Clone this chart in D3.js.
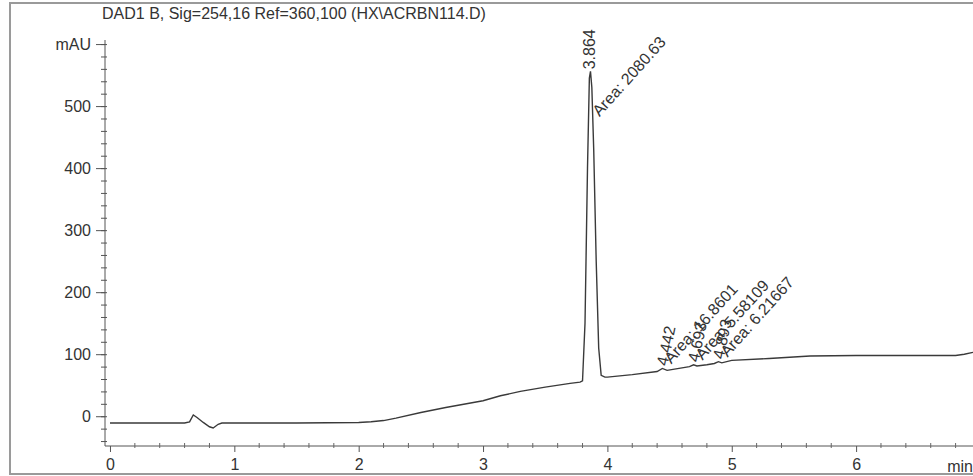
<!DOCTYPE html>
<html>
<head>
<meta charset="utf-8">
<script src="https://cdn.jsdelivr.net/npm/d3@7"></script>
<style>
  body { margin: 0; background: #fff; }
  text { font-family: "Liberation Sans", Arial, sans-serif; fill: #333; }
</style>
</head>
<body>
<svg id="chart" width="973" height="476"></svg>
<script>
// chromatogram trace (min, mAU)
const times  = [0, 0.3, 0.6, 0.64, 0.67, 0.70, 0.75, 0.80, 0.83, 0.87, 0.90, 1.0, 1.5, 2.0, 2.1, 2.2, 2.3, 2.5, 2.7, 3.0, 3.14, 3.3, 3.5, 3.7, 3.78, 3.80, 3.82, 3.84, 3.855, 3.864, 3.875, 3.89, 3.91, 3.93, 3.95, 3.98, 4.0, 4.2, 4.40, 4.442, 4.48, 4.6, 4.66, 4.693, 4.72, 4.80, 4.86, 4.893, 4.92, 5.0, 5.3, 5.63, 6.0, 6.4, 6.8, 6.87, 6.94];
const absorb = [-11, -11, -11, -9, 2, -2, -10, -17, -19, -13, -11, -11, -11, -10, -9, -7, -3, 6, 14, 25, 33, 40, 47, 53, 55, 57, 150, 400, 545, 556, 530, 430, 250, 110, 66, 63, 63, 67, 72, 77, 74, 78, 80, 83, 81, 83, 85, 88, 86, 90, 93, 97, 98, 98, 98, 100, 103];

// integration results
const peakTimes = [3.864, 4.442, 4.693, 4.893];
const peakAreas = ["2080.63", "16.8601", "5.58109", "6.21667"];

const xTicks = [0, 1, 2, 3, 4, 5, 6];
const yTicks = [0, 100, 200, 300, 400, 500];

function drawChromatogram(chartId) {
    const svg = d3.select(chartId);

    // scanned page frame
    svg.append("rect")
        .attr("x", 10).attr("y", 3)
        .attr("width", 980).attr("height", 471)
        .attr("fill", "none")
        .attr("stroke", "#9a9a9a")
        .attr("stroke-width", 2);

    svg.append("text")
        .attr("x", 102).attr("y", 19)
        .style("font-size", "16px")
        .text("DAD1 B, Sig=254,16 Ref=360,100 (HX\\ACRBN114.D)");

    const x = d3.scaleLinear().domain([-0.04, 6.94]).range([105, 973]);
    const y = d3.scaleLinear().domain([-48, 613]).range([446, 36]);

    // Y axis
    const yAxis = svg.append("g").attr("transform", `translate(${x(-0.04)},0)`);
    yAxis.call(d3.axisLeft(y).tickValues(d3.range(-40, 601, 20)).tickSize(4).tickFormat(""));
    yAxis.select(".domain").remove();
    yAxis.selectAll("line").attr("stroke", "#555").attr("x1", 2);
    yAxis.append("line")
        .attr("y1", 40).attr("y2", y(-48))
        .attr("stroke", "#555");
    const yMajor = svg.append("g").attr("transform", `translate(${x(-0.04)},0)`)
        .call(d3.axisLeft(y).tickValues(yTicks.concat([600])).tickSize(9).tickPadding(5)
            .tickFormat(d => d === 600 ? "mAU" : d));
    yMajor.select(".domain").remove();
    yMajor.selectAll("line").attr("stroke", "#555");
    yMajor.selectAll("text").style("font-size", "16px").attr("fill", "#333").attr("dy", "0.36em");

    // X axis
    const xAxis = svg.append("g").attr("transform", `translate(0,${y(-48)})`);
    xAxis.append("line")
        .attr("x1", x(-0.04)).attr("x2", 973)
        .attr("stroke", "#555");
    xAxis.selectAll(".minor")
        .data(d3.range(1, 35).map(i => i / 5).filter(v => Math.abs(v - Math.round(v)) > 0.01))
        .enter().append("line")
        .attr("class", "minor")
        .attr("x1", d => x(d)).attr("x2", d => x(d))
        .attr("y1", -3).attr("y2", 2)
        .attr("stroke", "#666");
    const xMajor = svg.append("g").attr("transform", `translate(0,${y(-48)})`)
        .call(d3.axisBottom(x).tickValues(xTicks).tickSize(6).tickPadding(7).tickFormat(d3.format("d")));
    xMajor.select(".domain").remove();
    xMajor.selectAll("line").attr("stroke", "#555");
    xMajor.selectAll("text").style("font-size", "16px").attr("fill", "#333");
    svg.append("text")
        .attr("x", 973).attr("y", 472)
        .attr("text-anchor", "end")
        .style("font-size", "16px")
        .text("min");

    // trace
    const trace = times.map((t, i) => [t, absorb[i]]);
    svg.append("path")
        .datum(trace)
        .attr("fill", "none")
        .attr("stroke", "#3a3a3a")
        .attr("stroke-width", 1.4)
        .attr("d", d3.line().x(d => x(d[0])).y(d => y(d[1])));

    // peak labels
    const valueAt = t => absorb[d3.bisectLeft(times, t)];
    peakTimes.forEach((t, i) => {
        const px = x(t), py = y(valueAt(t));
        const big = valueAt(t) > 200;
        svg.append("text")
            .attr("transform", `translate(${px + 5},${py - 2}) rotate(${big ? -90 : -78})`)
            .style("font-size", "16px")
            .text(t.toFixed(3));
        const ay = big ? py + 46 : py - 4;
        svg.append("text")
            .attr("transform", `translate(${px + 9},${ay}) rotate(-48)`)
            .style("font-size", "16px")
            .text("Area: " + peakAreas[i]);
    });
}

drawChromatogram("#chart");
</script>
</body>
</html>
